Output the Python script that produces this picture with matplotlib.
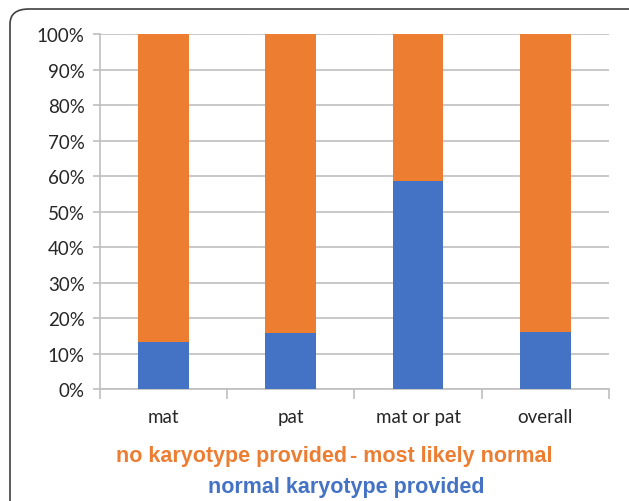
import matplotlib.pyplot as plt
import numpy as np
from matplotlib.patches import FancyBboxPatch

# Categories and values (percent)
categories = ['mat', 'pat', 'mat or pat', 'overall']
normal_provided = [13.2, 15.8, 58.6, 16.1]
no_karyotype = [100 - v for v in normal_provided]

blue = '#4472C4'
orange = '#ED7D31'
grid_gray = '#BFBFBF'

fig = plt.figure(figsize=(6.29, 5.02), dpi=100)
ax = fig.add_axes([0.159, 0.223, 0.809, 0.707])

x = np.arange(len(categories))
ax.bar(x, normal_provided, width=0.4, color=blue, zorder=3)
ax.bar(x, no_karyotype, width=0.4, bottom=normal_provided, color=orange, zorder=3)

ax.set_xlim(-0.5, len(categories) - 0.5)
ax.set_ylim(0, 100)
ax.set_yticks(np.arange(0, 101, 10))
ax.set_yticklabels([f'{v}%' for v in range(0, 101, 10)], fontsize=13.5,
                   family='Lato', color='#262626')
ax.yaxis.grid(True, color=grid_gray, linewidth=1.2, zorder=0)

# category labels, with tick marks between categories
ax.set_xticks(np.arange(-0.5, len(categories), 1.0))
ax.set_xticklabels([])
ax.set_xticks(x, minor=True)
ax.set_xticklabels(categories, minor=True, fontsize=13.5, family='Lato',
                   color='#262626')
ax.tick_params(axis='x', which='minor', length=0, pad=14)
ax.tick_params(axis='x', which='major', length=7, color=grid_gray, width=1.2)
ax.tick_params(axis='y', length=5, color=grid_gray, width=1.2, pad=6)

for s in ['top', 'right']:
    ax.spines[s].set_visible(False)
for s in ['left', 'bottom']:
    ax.spines[s].set_color(grid_gray)
    ax.spines[s].set_linewidth(1.2)

# legend as coloured text
fig.text(116 / 629, 1 - 457 / 502, 'no karyotype provided', color=orange, fontsize=15.5,
         family='Liberation Sans', weight='bold', ha='left', va='center')
fig.text(553 / 629, 1 - 457 / 502, '- most likely normal', color=orange, fontsize=15.5,
         family='Liberation Sans', weight='bold', ha='right', va='center')
fig.text(346 / 629, 1 - 488 / 502, 'normal karyotype provided', color=blue, fontsize=15.5,
         family='Liberation Sans', weight='bold', ha='center', va='center')

# rounded outer frame
frame = FancyBboxPatch((10 / 629, -0.05), 1.2, 1.05 - 10 / 502,
                       boxstyle='round,pad=0,rounding_size=0.03',
                       transform=fig.transFigure, fill=False,
                       edgecolor='#404040', linewidth=1.2)
fig.patches.append(frame)

plt.savefig('out.png', dpi=100)
